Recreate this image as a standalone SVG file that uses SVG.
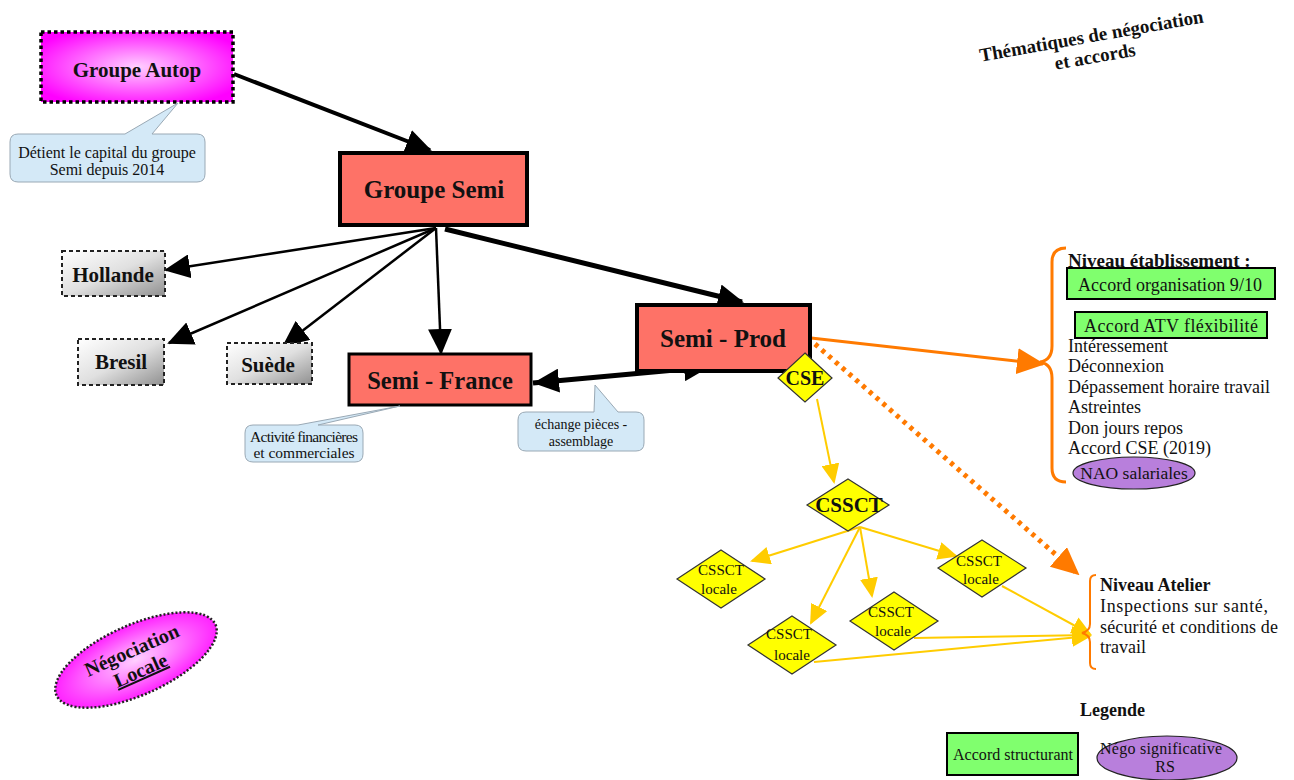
<svg xmlns="http://www.w3.org/2000/svg" width="1294" height="780" viewBox="0 0 1294 780">
<defs>
<radialGradient id="mag" cx="50%" cy="50%" r="60%"><stop offset="0" stop-color="#ffd0ff"/><stop offset="1" stop-color="#ff00ff"/></radialGradient>
<linearGradient id="gray" x1="0" y1="0" x2="1" y2="1"><stop offset="0" stop-color="#ffffff"/><stop offset="0.5" stop-color="#e0e0e0"/><stop offset="1" stop-color="#909090"/></linearGradient>
<marker id="ab" markerUnits="userSpaceOnUse" markerWidth="26" markerHeight="24" refX="24" refY="12" orient="auto"><path d="M0,0 L26,12 L0,24 Z" fill="#000"/></marker>
<marker id="abs" markerUnits="userSpaceOnUse" markerWidth="26" markerHeight="24" refX="0" refY="12" orient="auto"><path d="M26,0 L0,12 L26,24 Z" fill="#000"/></marker>
<marker id="ao" markerUnits="userSpaceOnUse" markerWidth="28" markerHeight="26" refX="26" refY="13" orient="auto"><path d="M0,0 L28,13 L0,26 Z" fill="#ff7a00"/></marker>
<marker id="ay" markerUnits="userSpaceOnUse" markerWidth="20" markerHeight="18" refX="18" refY="9" orient="auto"><path d="M0,0 L20,9 L0,18 Z" fill="#ffcc00"/></marker>
</defs>
<style>
text{font-family:"Liberation Serif","Times New Roman",serif;fill:#111}
.b{font-weight:bold}
.red{fill:#fe7267;stroke:#000}
.grey{fill:url(#gray);stroke:#222;stroke-width:2;stroke-dasharray:4 3}
.call{fill:#d4e9f7;stroke:#9aa9b5;stroke-width:1}
.dia{fill:#ffff00;stroke:#333;stroke-width:1.2}
.green{fill:#80ff6e;stroke:#000;stroke-width:2}
.purp{fill:#b87fdc;stroke:#222;stroke-width:1.2}
.bl{stroke:#000;fill:none}
.yl{stroke:#ffcc00;stroke-width:2;fill:none}
.br{stroke:#ff7a00;stroke-width:3;fill:none}
.t18{font-size:18px}
.loc{font-size:15px}
</style>

<g id="connectors">
<line class="bl" x1="234" y1="74" x2="430" y2="150" stroke-width="4" marker-end="url(#ab)"/>
<line class="bl" x1="436" y1="228" x2="166" y2="270" stroke-width="2.5" marker-end="url(#ab)"/>
<line class="bl" x1="436" y1="228" x2="169" y2="343" stroke-width="2.5" marker-end="url(#ab)"/>
<line class="bl" x1="436" y1="228" x2="284" y2="345" stroke-width="2.5" marker-end="url(#ab)"/>
<line class="bl" x1="436" y1="228" x2="441" y2="353" stroke-width="2.5" marker-end="url(#ab)"/>
<line class="bl" x1="445" y1="229" x2="742" y2="302" stroke-width="5" marker-end="url(#ab)"/>
<line class="bl" x1="533" y1="383" x2="708" y2="367" stroke-width="5" marker-start="url(#abs)" marker-end="url(#ab)"/>
<line class="br" x1="811" y1="338" x2="1043" y2="364" stroke-width="4.5" marker-end="url(#ao)"/>
<line x1="815" y1="344" x2="1078" y2="574" stroke="#ff7a00" stroke-width="5" stroke-dasharray="4 5" marker-end="url(#ao)"/>
<line class="yl" x1="817" y1="399" x2="834" y2="482" marker-end="url(#ay)"/>
<line class="yl" x1="860" y1="527" x2="752" y2="561" marker-end="url(#ay)"/>
<line class="yl" x1="860" y1="527" x2="811" y2="623" marker-end="url(#ay)"/>
<line class="yl" x1="860" y1="527" x2="872" y2="596" marker-end="url(#ay)"/>
<line class="yl" x1="860" y1="527" x2="956" y2="556" marker-end="url(#ay)"/>
<line class="yl" x1="1002" y1="586" x2="1090" y2="634" marker-end="url(#ay)"/>
<line class="yl" x1="914" y1="638" x2="1090" y2="635" marker-end="url(#ay)"/>
<line class="yl" x1="814" y1="662" x2="1090" y2="636" marker-end="url(#ay)"/>
</g>

<g id="groupe-autop">
<rect x="41" y="32" width="192" height="70" fill="url(#mag)" stroke="#000" stroke-width="3.5" stroke-dasharray="3.5 3"/>
<text x="137" y="77" class="b" font-size="21" text-anchor="middle">Groupe Autop</text>
</g>
<g id="callout-autop">
<path class="call" d="M18,134 L125,134 L178,103 L152,134 L197,134 Q205,134 205,142 L205,174 Q205,182 197,182 L18,182 Q10,182 10,174 L10,142 Q10,134 18,134 Z"/>
<text x="107" y="158" font-size="16" text-anchor="middle">Détient le capital du groupe</text>
<text x="107" y="175" font-size="16" text-anchor="middle">Semi depuis 2014</text>
</g>
<g id="groupe-semi">
<rect x="340" y="153" width="187" height="72" class="red" stroke-width="4"/>
<text x="434" y="198" class="b" font-size="25" text-anchor="middle">Groupe Semi</text>
</g>
<g id="hollande">
<rect x="62" y="251" width="103" height="45" class="grey"/>
<text x="113" y="282" class="b" font-size="21" text-anchor="middle">Hollande</text>
</g>
<g id="bresil">
<rect x="78" y="339" width="86" height="46" class="grey"/>
<text x="121" y="369" class="b" font-size="21" text-anchor="middle">Bresil</text>
</g>
<g id="suede">
<rect x="227" y="343" width="85" height="41" class="grey"/>
<text x="268" y="372" class="b" font-size="21" text-anchor="middle">Suède</text>
</g>
<g id="semi-france">
<rect x="349" y="354" width="182" height="51" class="red" stroke-width="3"/>
<text x="440" y="389" class="b" font-size="24.5" text-anchor="middle">Semi - France</text>
</g>
<g id="semi-prod">
<rect x="637" y="305" width="173" height="66" class="red" stroke-width="4"/>
<text x="723" y="347" class="b" font-size="25" text-anchor="middle">Semi - Prod</text>
</g>
<g id="callout-france">
<path class="call" d="M253,425 L298,425 L400,406 L318,425 L355,425 Q363,425 363,433 L363,454 Q363,462 355,462 L253,462 Q245,462 245,454 L245,433 Q245,425 253,425 Z"/>
<text x="304" y="442" font-size="15.5" text-anchor="middle" textLength="108" lengthAdjust="spacing">Activité financières</text>
<text x="304" y="458" font-size="15.5" text-anchor="middle">et  commerciales</text>
</g>
<g id="callout-echange">
<path class="call" d="M526,412 L594,412 L595,385 L618,412 L636,412 Q644,412 644,420 L644,443 Q644,451 636,451 L526,451 Q518,451 518,443 L518,420 Q518,412 526,412 Z"/>
<text x="581" y="429" font-size="14" text-anchor="middle">échange pièces -</text>
<text x="581" y="446" font-size="14" text-anchor="middle">assemblage</text>
</g>
<g id="cse">
<path class="dia" d="M805,353 L832,378 L805,402 L778,378 Z"/>
<text x="805" y="385" class="b" font-size="20" text-anchor="middle">CSE</text>
</g>
<g id="cssct">
<path class="dia" d="M848,479 L889,505 L848,531 L807,505 Z"/>
<text x="849" y="512" class="b" font-size="21" text-anchor="middle">CSSCT</text>
</g>
<g id="cssct-locale-1">
<path class="dia" d="M721,550 L765,579 L721,608 L677,579 Z"/>
<text x="721" y="575" class="loc" text-anchor="middle">CSSCT</text>
<text x="719" y="594" class="loc" text-anchor="middle">locale</text>
</g>
<g id="cssct-locale-2">
<path class="dia" d="M792,616 L836,645 L792,674 L748,645 Z"/>
<text x="789" y="639" class="loc" text-anchor="middle">CSSCT</text>
<text x="792" y="660" class="loc" text-anchor="middle">locale</text>
</g>
<g id="cssct-locale-3">
<path class="dia" d="M894,592 L938,621 L894,650 L850,621 Z"/>
<text x="891" y="617" class="loc" text-anchor="middle">CSSCT</text>
<text x="893" y="636" class="loc" text-anchor="middle">locale</text>
</g>
<g id="cssct-locale-4">
<path class="dia" d="M982,540 L1026,568 L982,597 L938,568 Z"/>
<text x="979" y="566" class="loc" text-anchor="middle">CSSCT</text>
<text x="981" y="584" class="loc" text-anchor="middle">locale</text>
</g>

<g id="niveau-etablissement">
<path class="br" d="M1066,248 Q1052,248 1052,262 L1052,346 Q1052,360 1040,362 Q1052,364 1052,378 L1052,468 Q1052,482 1066,482"/>
<text x="1068" y="267" class="b" font-size="19">Niveau établissement :</text>
<rect x="1067" y="268" width="208" height="31" class="green"/>
<text x="1078" y="291" class="t18" textLength="184" lengthAdjust="spacing">Accord organisation 9/10</text>
<rect x="1075" y="312" width="192" height="26" class="green"/>
<text x="1084" y="332" class="t18" textLength="174" lengthAdjust="spacing">Accord ATV fléxibilité</text>
<text x="1068" y="352" class="t18">Intéressement</text>
<text x="1068" y="372" class="t18">Déconnexion</text>
<text x="1068" y="393" class="t18">Dépassement horaire travail</text>
<text x="1068" y="413" class="t18">Astreintes</text>
<text x="1068" y="434" class="t18">Don jours repos</text>
<text x="1068" y="454" class="t18">Accord CSE (2019)</text>
<ellipse cx="1134" cy="473" rx="61" ry="16" class="purp"/>
<text x="1134" y="479" font-size="17.5" text-anchor="middle">NAO salariales</text>
</g>

<g id="niveau-atelier">
<path d="M1096,575 Q1090,575 1090,581 L1090,624 Q1090,631 1082,633 Q1090,635 1090,642 L1090,663 Q1090,669 1096,669" stroke="#ff7a00" stroke-width="2" fill="none"/>
<text x="1100" y="591" class="b t18">Niveau Atelier</text>
<text x="1100" y="612" class="t18" textLength="168" lengthAdjust="spacing">Inspections sur santé,</text>
<text x="1100" y="633" class="t18" textLength="178" lengthAdjust="spacing">sécurité et conditions de</text>
<text x="1100" y="653" class="t18">travail</text>
</g>

<g id="legende">
<text x="1080" y="716" class="b t18">Legende</text>
<rect x="947" y="733" width="131" height="42" class="green"/>
<text x="953" y="760" font-size="16" textLength="120" lengthAdjust="spacing">Accord structurant</text>
<ellipse cx="1167" cy="758" rx="70" ry="22" class="purp"/>
<text x="1100" y="754" font-size="16" textLength="122" lengthAdjust="spacing">Négo significative</text>
<text x="1165" y="772" font-size="16" text-anchor="middle">RS</text>
</g>

<g id="titre">
<g transform="rotate(-10 1093 45)">
<text x="1093" y="42" class="b" font-size="19" text-anchor="middle">Thématiques de négociation</text>
<text x="1093" y="63" class="b" font-size="19" text-anchor="middle">et accords</text>
</g>
</g>

<g id="negociation-locale">
<g transform="rotate(-24 136 660)">
<ellipse cx="136" cy="660" rx="87" ry="35" fill="url(#mag)" stroke="#222" stroke-width="2.5" stroke-dasharray="2 2"/>
<text x="136" y="656" class="b" font-size="20" text-anchor="middle">Négociation</text>
<text x="136" y="678" class="b" font-size="20" text-anchor="middle" text-decoration="underline">Locale</text>
</g>
</g>
</svg>
